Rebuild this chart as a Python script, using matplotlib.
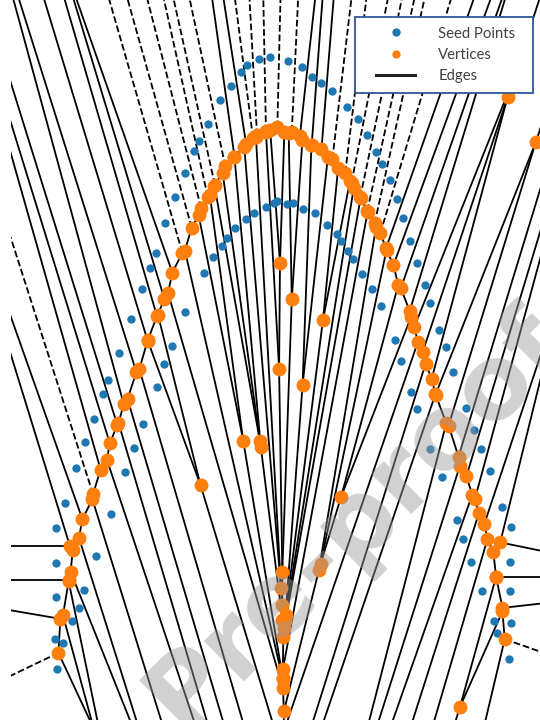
import numpy as np
import matplotlib
matplotlib.use("Agg")
import matplotlib.pyplot as plt
import matplotlib.tri as mtri
from matplotlib.collections import LineCollection
from matplotlib.lines import Line2D
from matplotlib.legend_handler import HandlerLine2D

outer_x = [56.8, 55.2, 56, 56, 56, 65, 76, 85, 94, 103, 108, 119, 131, 142, 150, 155.5, 165, 175, 184.5, 194,
           199, 207.5, 220, 231, 241, 247, 259, 270, 288, 302, 312, 321, 332, 347, 358, 367, 376, 382, 390, 397,
           403, 410, 417, 425, 430, 439, 446, 453, 466, 474, 481, 490, 502, 511, 510.2, 510.2, 510.6, 509.2]
outer_y = [669, 639, 597, 563, 528, 503, 468, 442, 419, 394, 380, 353, 319, 289, 268, 253, 223, 197, 173, 151,
           141, 124, 100, 86, 72, 65, 59, 57, 61, 67, 77, 83, 91, 107, 119, 135, 152, 164, 180, 199,
           218, 241, 263, 285, 303, 330, 347, 372, 408, 430, 449, 471, 507, 527, 562, 591, 623, 659]
inner_x = [63, 72, 79, 84, 96, 111, 125, 134, 143, 157, 164, 172, 185, 204, 213, 222, 227, 235, 246, 254,
           266, 274, 277, 287, 293, 303, 315, 327, 337, 341, 348, 353, 362, 372, 381, 395, 401, 411, 417, 430,
           442, 457, 463, 471, 482, 494, 497]
inner_y = [643, 621, 608, 590, 556, 514, 472, 448, 424, 387, 364, 346, 312, 273, 257, 246, 238, 228, 219, 213,
           207, 203, 201, 204, 203, 209, 213, 225, 234, 241, 251, 259, 274, 289, 306, 340, 361, 392, 409, 449,
           477, 520, 539, 562, 591, 621, 633]

x_stretch = 3.0  # data x runs this much wider than it is drawn

px = np.array(outer_x + inner_x, dtype=float)
py = 720 - np.array(outer_y + inner_y, dtype=float)
pts = np.column_stack([px * x_stretch, py])

# voronoi from the delaunay triangulation
tri = mtri.Triangulation(pts[:, 0], pts[:, 1])
t = tri.triangles
a, b, c = pts[t[:, 0]], pts[t[:, 1]], pts[t[:, 2]]
d = 2 * (a[:, 0] * (b[:, 1] - c[:, 1]) + b[:, 0] * (c[:, 1] - a[:, 1]) + c[:, 0] * (a[:, 1] - b[:, 1]))
a2, b2, c2 = (a ** 2).sum(1), (b ** 2).sum(1), (c ** 2).sum(1)
ux = (a2 * (b[:, 1] - c[:, 1]) + b2 * (c[:, 1] - a[:, 1]) + c2 * (a[:, 1] - b[:, 1])) / d
uy = (a2 * (c[:, 0] - b[:, 0]) + b2 * (a[:, 0] - c[:, 0]) + c2 * (b[:, 0] - a[:, 0])) / d
verts = np.column_stack([ux, uy])

center = pts.mean(axis=0)
span = np.ptp(pts, axis=0).max()
finite = []
infinite = []
for i in range(len(t)):
    for j in range(3):
        k = tri.neighbors[i, j]
        if k > i:
            finite.append([verts[i], verts[k]])
        elif k == -1:
            p0, p1 = t[i, j], t[i, (j + 1) % 3]
            tt = pts[p1] - pts[p0]
            tt = tt / np.linalg.norm(tt)
            n = np.array([-tt[1], tt[0]])
            mid = (pts[p0] + pts[p1]) / 2
            direction = np.sign(np.dot(mid - center, n)) * n
            infinite.append([verts[i], verts[i] + direction * span * 3])


def to_plot(segs):
    segs = np.array(segs)
    segs[:, :, 0] /= x_stretch
    return segs


fig = plt.figure(figsize=(5.4, 7.2), dpi=100)
ax = fig.add_axes([11 / 540, 0, 529 / 540, 1])

ax.add_collection(LineCollection(to_plot(finite), colors="k", linewidths=1.3))
ax.add_collection(LineCollection(to_plot(infinite), colors="k", linewidths=1.3, linestyles="dashed"))
ax.plot(px, py, "o", ms=6, mew=0, color="#1f77b4")
ax.plot(verts[:, 0] / x_stretch, verts[:, 1], "o", ms=10, mew=0, color="#ff7f0e")

ax.set_xlim(11, 540)
ax.set_ylim(0, 720)
ax.axis("off")

handles = [Line2D([], [], marker="o", ls="none", ms=6, mew=0, color="#1f77b4"),
           Line2D([], [], marker="o", ls="none", ms=6, mew=0, color="#ff7f0e"),
           Line2D([], [], color="#222222", lw=2.2)]
leg = fig.legend(handles, ["Seed Points", "Vertices", "Edges"], loc="upper left",
                 bbox_to_anchor=(355 / 540, 1 - 92 / 720, 178 / 540, 75 / 720), mode="expand",
                 borderaxespad=0, prop={"family": "Lato", "size": 10.7}, labelcolor="#404040",
                 handlelength=3.42, handletextpad=1.54, borderpad=0.65, labelspacing=0.48,
                 handler_map={Line2D: HandlerLine2D(xpad=0.74)},
                 fancybox=False, framealpha=1)
leg.get_frame().set_edgecolor("#2F5597")
leg.get_frame().set_linewidth(1.3)

fig.text(0.661, 0.278, "Pre-proof", rotation=45, fontsize=74, fontweight="bold", color="#999999",
         alpha=0.45, ha="center", va="center", rotation_mode="anchor", family="DejaVu Sans", zorder=10)

fig.savefig("out.png", dpi=100)
